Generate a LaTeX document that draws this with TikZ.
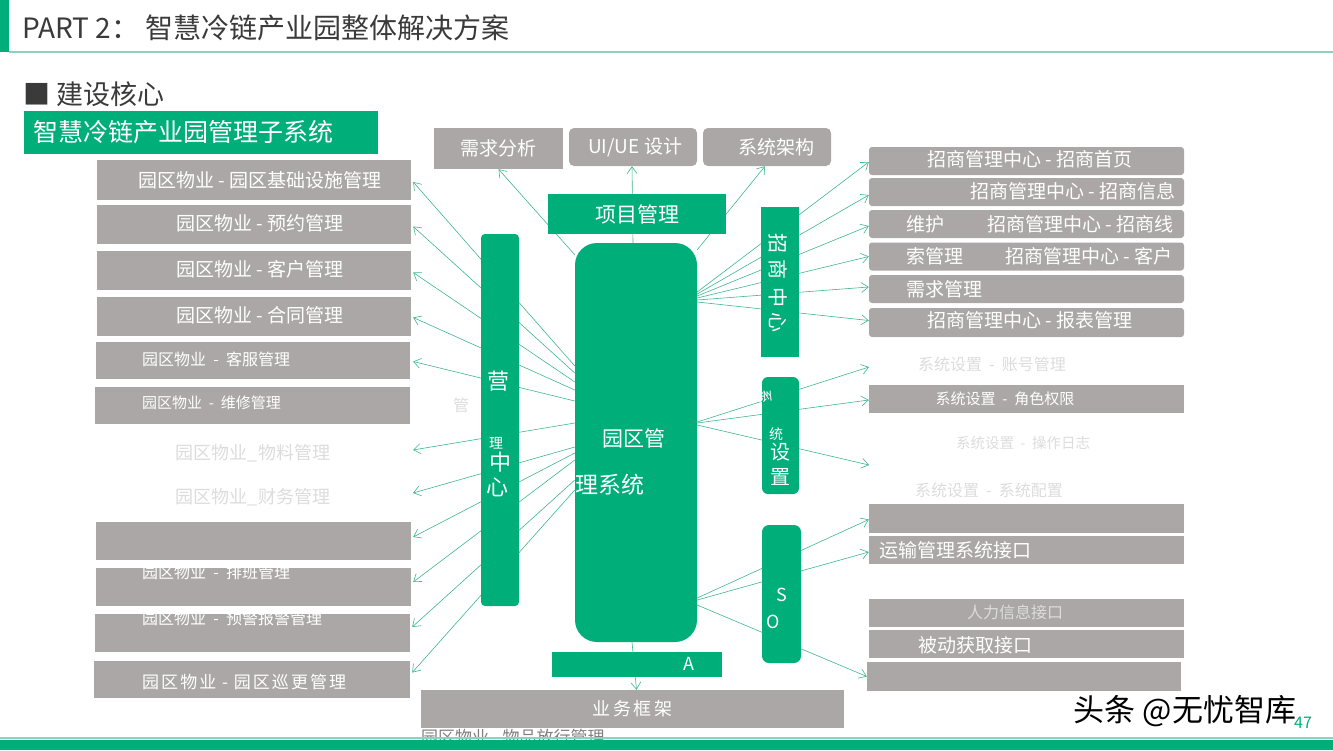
\documentclass[tikz,border=0pt]{standalone}
\usepackage{fontspec}
\setmainfont{Noto Sans CJK SC}
\usetikzlibrary{arrows.meta,backgrounds}

\definecolor{parkgreen}{HTML}{00AE7A}
\definecolor{boxgray}{HTML}{ABA7A6}
\definecolor{linkgreen}{HTML}{3DB78E}
\definecolor{fadegray}{HTML}{DCDCDC}
\definecolor{titlegray}{HTML}{3A3A3A}
\definecolor{rulegreen}{HTML}{8AD3BE}

\newcommand{\pfs}[1]{\fontsize{#1}{#1}\selectfont}

\tikzset{
  graybox/.style={fill=boxgray,inner sep=0pt,text=white},
  greenbox/.style={fill=parkgreen,inner sep=0pt,text=white},
  lbl/.style={inner sep=0pt,text=white},
  faint/.style={inner sep=0pt,text=fadegray},
  link/.style={draw=linkgreen,line width=0.6pt,-{Straight Barb[length=7pt,width=10pt]}}
}

\begin{document}
\begin{tikzpicture}[x=1pt,y=-1pt]
  \useasboundingbox (0,0) rectangle (1333,750);

  % header
  \fill[parkgreen] (0,0) rectangle (9,52);
  \draw[rulegreen,line width=1.2pt] (9,52) -- (1333,52);
  \node[anchor=west,inner sep=0pt,text=titlegray] (title) at (22,28) {\pfs{28}PART 2： 智慧冷链产业园整体解决方案};
  \node[anchor=west,inner sep=0pt,text=titlegray] (core) at (23,94) {\pfs{27}■ 建设核心};
  \node[greenbox,minimum width=354,minimum height=43] (sub) at (201,132.5) {};
  \node[lbl,anchor=west] (subtxt) at (33,132) {\pfs{25}智慧冷链产业园管理子系统};

  % top row
  \node[graybox,minimum width=129,minimum height=41] (req) at (498.5,148.5) {\pfs{19}需求分析};
  \node[graybox,rounded corners=5pt,minimum width=128,minimum height=38] (ui) at (633,147) {\pfs{19}\ UI/UE 设计};
  \node[graybox,rounded corners=5pt,minimum width=128,minimum height=38] (arch) at (767,147) {\pfs{19}\quad 系统架构};
  \node[greenbox,minimum width=178,minimum height=40] (proj) at (637,214) {\pfs{21}项目管理};

  % centre
  \node[greenbox,rounded corners=22pt,minimum width=122,minimum height=399] (park) at (636,442.5) {};
  \node[lbl] (parka) at (634,438) {\pfs{21}园区管};
  \node[lbl,anchor=west] (parkb) at (575,485) {\pfs{23}理系统};
  \node[greenbox,minimum width=170,minimum height=25] (abar) at (637,664.5) {};
  \node[lbl] (atxt) at (689,664) {\pfs{18}A};
  \node[graybox,minimum width=423,minimum height=38] (frame) at (632.5,709) {\pfs{18}\addfontfeature{LetterSpace=15}业务框架};
  \node[anchor=west,inner sep=0pt,text=gray] (frametail) at (421,737) {\pfs{17}园区物业 - 物品放行管理};

  % operation bar
  \node[greenbox,rounded corners=4pt,minimum width=38,minimum height=372] (oper) at (500,420) {};
  \node[lbl] (opa) at (498,381) {\pfs{22}营};
  \node[lbl] (opb) at (496,443) {\pfs{14}理};
  \node[lbl] (opc) at (500,462) {\pfs{22}中};
  \node[lbl] (opd) at (497,487) {\pfs{22}心};
  \node[faint] (opguan) at (461,405) {\pfs{16}管};

  % left column
  \node[graybox,minimum width=314,minimum height=40] (l1) at (254,180) {};
  \node[lbl] (t1) at (260,180) {\pfs{19}园区物业 - 园区基础设施管理};
  \node[graybox,minimum width=314,minimum height=39] (l2) at (254,224.5) {};
  \node[lbl] (t2) at (260,223) {\pfs{19}园区物业 - 预约管理};
  \node[graybox,minimum width=314,minimum height=39] (l3) at (254,270.5) {};
  \node[lbl] (t3) at (260,269) {\pfs{19}园区物业 - 客户管理};
  \node[graybox,minimum width=314,minimum height=39] (l4) at (254,316.5) {};
  \node[lbl] (t4) at (260,315) {\pfs{19}园区物业 - 合同管理};
  \node[graybox,minimum width=314,minimum height=37] (l5) at (253,360.5) {};
  \node[lbl,anchor=west] (t5) at (142,359) {\pfs{16}园区物业 \ - \ 客服管理};
  \node[graybox,minimum width=315,minimum height=37] (l6) at (252.5,405.5) {};
  \node[lbl,anchor=west] (t6) at (142,403) {\pfs{15}园区物业 \ - \ 维修管理};
  \node[faint] (t7) at (253,453) {\pfs{18}园区物业\_物料管理};
  \coordinate (l7) at (413,450);
  \node[faint] (t8) at (253,497) {\pfs{18}园区物业\_财务管理};
  \coordinate (l8) at (413,493);
  \node[graybox,minimum width=315,minimum height=38] (l9) at (253.5,541) {};
  \node[graybox,minimum width=315,minimum height=38] (l10) at (253.5,587) {};
  \node[lbl,anchor=west] (t10) at (142,572) {\pfs{16}园区物业 \ - \ 排班管理};
  \node[graybox,minimum width=315,minimum height=38] (l11) at (252.5,633) {};
  \node[lbl,anchor=west] (t11) at (142,618) {\pfs{16}园区物业 \ - \ 预警报警管理};
  \node[graybox,minimum width=316,minimum height=37] (l12) at (252,679.5) {};
  \node[lbl,anchor=west] (t12) at (142,682) {\pfs{17}\addfontfeature{LetterSpace=12}园区物业 - 园区巡更管理};

  % investment bar
  \node[greenbox,minimum width=38,minimum height=150] (invest) at (780,282) {};
  \node[lbl,rotate=-90] (iva) at (778,243) {\pfs{20}招};
  \node[lbl,rotate=-90] (ivb) at (778,269) {\pfs{20}商};
  \node[lbl,rotate=-90] (ivc) at (778,297) {\pfs{20}中};
  \node[lbl,rotate=-90] (ivd) at (778,322) {\pfs{20}心};

  % settings bar
  \node[greenbox,rounded corners=6pt,minimum width=37,minimum height=117] (sett) at (780.5,435.5) {};
  \node[lbl,rotate=-90] (sea) at (766,396) {\pfs{14}系};
  \node[lbl] (seb) at (776,434) {\pfs{14}统};
  \node[lbl] (sec) at (780,452) {\pfs{20}设};
  \node[lbl] (sed) at (780,477) {\pfs{20}置};

  % interface bar
  \node[greenbox,rounded corners=7pt,minimum width=39,minimum height=138] (sobar) at (781.5,594) {};
  \node[lbl] (soa) at (782,595) {\pfs{18}S};
  \node[lbl] (sob) at (773,622) {\pfs{18}O};

  % right column
  \node[graybox,rounded corners=3pt,minimum width=315,minimum height=28] (r1) at (1026.5,161) {};
  \node[lbl] (u1) at (1030,159) {\pfs{19}招商管理中心 - 招商首页};
  \node[graybox,rounded corners=3pt,minimum width=315,minimum height=28] (r2) at (1026.5,192) {};
  \node[lbl,anchor=east] (u2) at (1176,191) {\pfs{19}招商管理中心 - 招商信息};
  \node[graybox,rounded corners=3pt,minimum width=315,minimum height=28] (r3) at (1026.5,224) {};
  \node[lbl,anchor=west] (u3a) at (906,224) {\pfs{19}维护};
  \node[lbl,anchor=east] (u3b) at (1174,224) {\pfs{19}招商管理中心 - 招商线};
  \node[graybox,rounded corners=3pt,minimum width=315,minimum height=28] (r4) at (1026.5,256.5) {};
  \node[lbl,anchor=west] (u4a) at (906,256) {\pfs{19}索管理};
  \node[lbl,anchor=east] (u4b) at (1173,256) {\pfs{19}招商管理中心 - 客户};
  \node[graybox,rounded corners=3pt,minimum width=315,minimum height=28] (r5) at (1026.5,289) {};
  \node[lbl,anchor=west] (u5) at (906,289) {\pfs{19}需求管理};
  \node[graybox,rounded corners=3pt,minimum width=315,minimum height=29] (r6) at (1026.5,322.5) {};
  \node[lbl] (u6) at (1030,320) {\pfs{19}招商管理中心 - 报表管理};

  \node[faint] (v1) at (992,364) {\pfs{16}系统设置 \ - \ 账号管理};
  \coordinate (s1) at (869,367);
  \node[graybox,minimum width=315,minimum height=28] (s2) at (1026.5,399) {};
  \node[lbl] (v2) at (1005,399) {\pfs{15}系统设置 \ - \ 角色权限};
  \node[faint] (v3) at (1023,443) {\pfs{14.5}系统设置 \ - \ 操作日志};
  \coordinate (s3) at (869,465);
  \node[faint] (v4) at (989,490) {\pfs{16}系统设置 \ - \ 系统配置};

  \node[graybox,minimum width=315,minimum height=29] (i1) at (1026.5,518.5) {};
  \node[graybox,minimum width=315,minimum height=28] (i2) at (1026.5,550) {};
  \node[lbl,anchor=west] (w2) at (879,550) {\pfs{19}运输管理系统接口};
  \node[graybox,minimum width=315,minimum height=28] (i3) at (1026.5,613) {};
  \node[inner sep=0pt,text=fadegray] (w3) at (1015,612) {\pfs{16}人力信息接口};
  \node[graybox,minimum width=315,minimum height=28] (i4) at (1026.5,644) {};
  \node[lbl] (w4) at (975,645) {\pfs{19}被动获取接口};
  \node[graybox,minimum width=314,minimum height=29] (i5) at (1024,676.5) {};

  % connectors
  \begin{scope}[on background layer]
    \draw[link] ([yshift=-12pt]park.north west) -- (req.south);
    \draw[link] ([xshift=-3pt]park.north) -- ([xshift=-1pt]ui.south);
    \draw[link] ([yshift=-7pt]park.north east) -- ([xshift=-2pt]arch.south);
    \draw[link] ([xshift=-4pt]park.south) -- ([xshift=4pt]frame.north);

    \draw[link] ([yshift=76.5pt]park.west) -- ([xshift=2pt,yshift=-2pt]l1.east);
    \draw[link] ([yshift=69.5pt]park.west) -- ([xshift=2pt,yshift=-2pt]l2.east);
    \draw[link] ([yshift=60.5pt]park.west) -- ([xshift=2pt,yshift=-2pt]l3.east);
    \draw[link] ([yshift=52.5pt]park.west) -- ([xshift=2pt,yshift=-1pt]l4.east);
    \draw[link] ([yshift=41.5pt]park.west) -- ([xshift=3pt,yshift=-1pt]l5.east);
    \draw[link] ([yshift=19.5pt]park.west) -- (l7);
    \draw[link] ([yshift=-4.5pt]park.west) -- (l8);
    \draw[link] ([yshift=-10.5pt]park.west) -- ([xshift=2pt,yshift=4pt]l9.east);
    \draw[link] ([yshift=-17.5pt]park.west) -- ([xshift=2pt,yshift=5pt]l10.east);
    \draw[link] ([yshift=-37.5pt]park.west) -- ([xshift=2pt,yshift=6pt]l11.east);
    \draw[link] ([yshift=-47.5pt]park.west) -- ([xshift=2pt,yshift=7pt]l12.east);

    \draw[link] ([yshift=150.5pt]park.east) -- ([yshift=-1pt]r1.west);
    \draw[link] ([yshift=148.5pt]park.east) -- ([yshift=-3pt]r2.west);
    \draw[link] ([yshift=146.5pt]park.east) -- ([yshift=-2pt]r3.west);
    \draw[link] ([yshift=144.5pt]park.east) -- (r4.west);
    \draw[link] ([yshift=142.5pt]park.east) -- ([yshift=2pt]r5.west);
    \draw[link] ([yshift=140.5pt]park.east) -- ([yshift=2pt]r6.west);

    \draw[link] ([yshift=20.5pt]park.east) -- (s1);
    \draw[link] ([yshift=19.5pt]park.east) -- ([yshift=-1pt]s2.west);
    \draw[link] ([yshift=17.5pt]park.east) -- (s3);

    \draw[link] ([yshift=-155.5pt]park.east) -- ([yshift=-1pt]i1.west);
    \draw[link] ([yshift=-157.5pt]park.east) -- ([yshift=-2pt]i2.west);
    \draw[link] ([yshift=-162.5pt]park.east) -- (i5.west);
  \end{scope}

  % footer
  \draw[rulegreen,line width=1.5pt] (0,738) -- (1333,738);
  \fill[parkgreen] (0,739.5) rectangle (1333,750);
  \node[inner sep=0pt] (mark) at (1185,711) {\pfs{31}头条 @无忧智库};
  \node[inner sep=0pt,text=parkgreen] (page) at (1303,723) {\pfs{16}47};
\end{tikzpicture}
\end{document}
